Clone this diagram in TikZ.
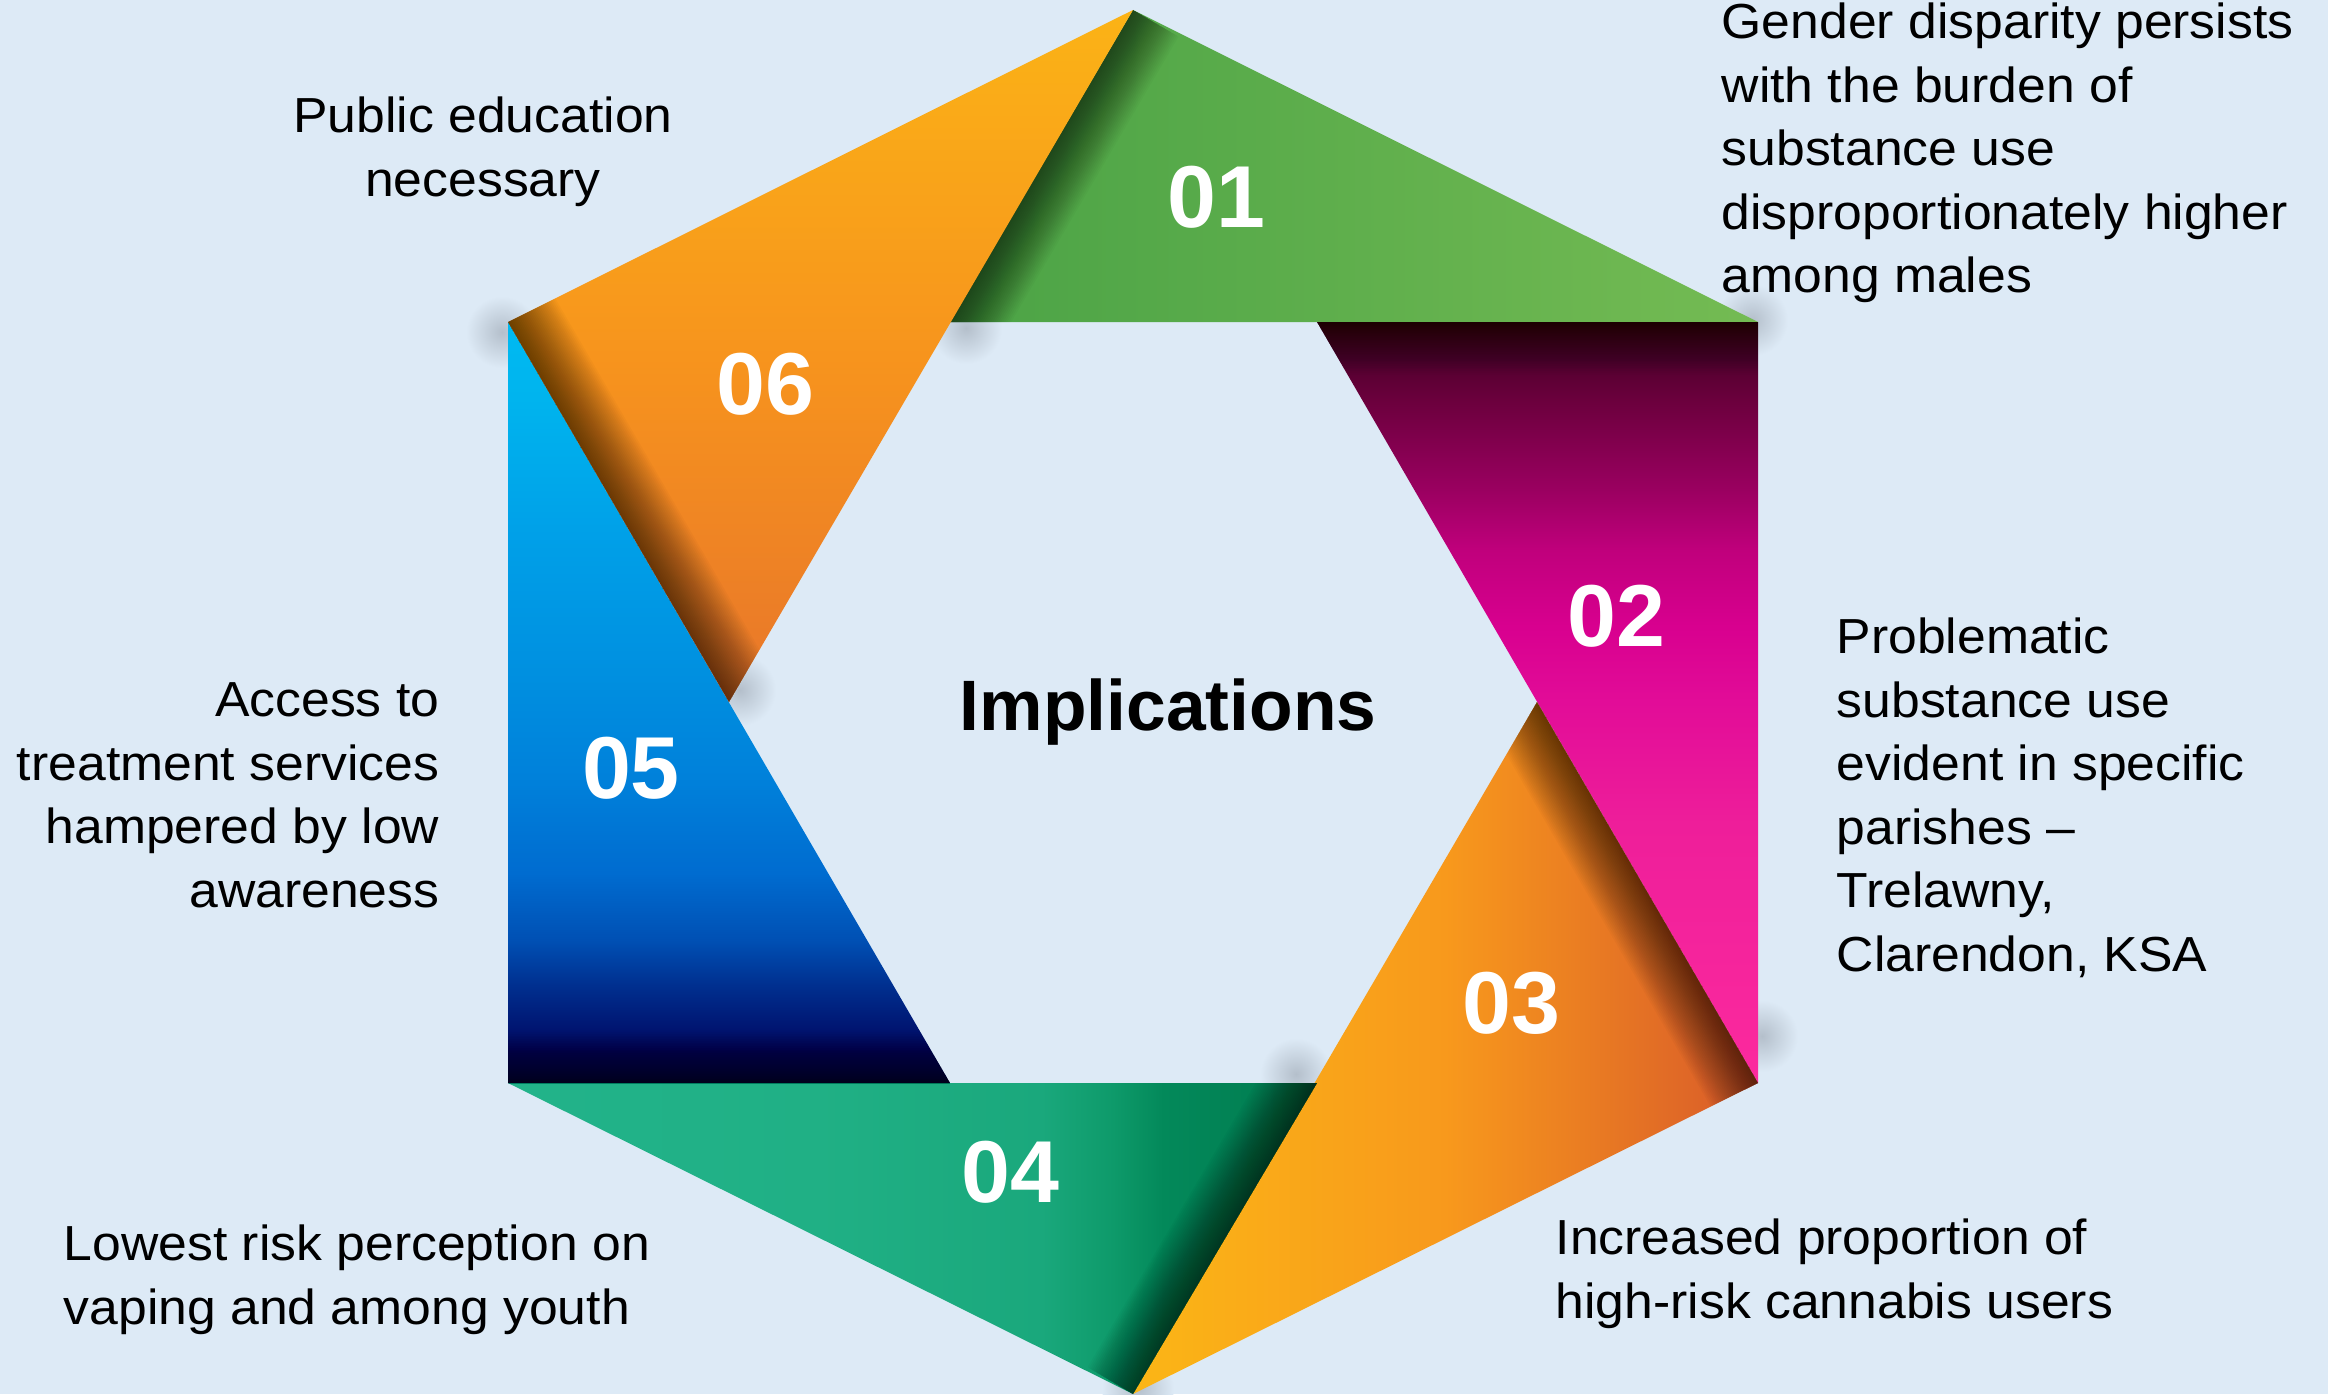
\documentclass[tikz,border=0pt]{standalone}
\usepackage{fontspec}
\setmainfont{Liberation Sans}[FakeStretch=1.05]
\newfontfamily\numfont{Liberation Sans}
\usetikzlibrary{calc}

\definecolor{bgblue}{HTML}{DDEAF6}
\definecolor{haze}{HTML}{B4BFCB}
\definecolor{greenL}{HTML}{4BA346}
\definecolor{greenR}{HTML}{74BB53}
\definecolor{orangeY}{HTML}{FBB616}
\definecolor{orangeM}{HTML}{F8991C}
\definecolor{orangeR}{HTML}{D8592A}
\definecolor{amberT}{HTML}{FBB316}
\definecolor{amberM}{HTML}{F7941D}
\definecolor{amberB}{HTML}{E8762A}
% magenta fold, bottom to top
\definecolor{mgA}{HTML}{FC2A9E}
\definecolor{mgB}{HTML}{EE1E9A}
\definecolor{mgC}{HTML}{E20C98}
\definecolor{mgD}{HTML}{D8008F}
\definecolor{mgE}{HTML}{C0007C}
\definecolor{mgF}{HTML}{9A0060}
\definecolor{mgG}{HTML}{6A003C}
\definecolor{mgH}{HTML}{3A0020}
% blue fold, bottom to top
\definecolor{blA}{HTML}{000038}
\definecolor{blB}{HTML}{00044C}
\definecolor{blC}{HTML}{001470}
\definecolor{blD}{HTML}{003090}
\definecolor{blE}{HTML}{0050B4}
\definecolor{blF}{HTML}{006CD0}
\definecolor{blG}{HTML}{0080DA}
\definecolor{blH}{HTML}{0090E0}
\definecolor{blI}{HTML}{00A0E8}
\definecolor{blJ}{HTML}{00B4EE}
\definecolor{blK}{HTML}{00BAF2}
% teal fold, left to right
\definecolor{tlA}{HTML}{22B38A}
\definecolor{tlB}{HTML}{20B085}
\definecolor{tlC}{HTML}{1AA87C}
\definecolor{tlD}{HTML}{0E9A6A}
\definecolor{tlE}{HTML}{03895A}
\definecolor{tlF}{HTML}{007A4E}

\pgfdeclareverticalshading{magentafold}{100bp}{color(0bp)=(mgA); color(25bp)=(mgA);
  color(42bp)=(mgB); color(50bp)=(mgC); color(55bp)=(mgD); color(60bp)=(mgE);
  color(64bp)=(mgF); color(70bp)=(mgG); color(75bp)=(mgH); color(100bp)=(mgH)}
\pgfdeclareverticalshading{bluefold}{100bp}{color(0bp)=(blA); color(25bp)=(blA);
  color(26bp)=(blB); color(28.5bp)=(blC); color(31.5bp)=(blD); color(34.4bp)=(blE);
  color(38.8bp)=(blF); color(44.7bp)=(blG); color(52bp)=(blH); color(61bp)=(blI);
  color(70bp)=(blJ); color(75bp)=(blK); color(100bp)=(blK)}
\pgfdeclarehorizontalshading{tealfold}{100bp}{color(0bp)=(tlA); color(25bp)=(tlA);
  color(44bp)=(tlB); color(58bp)=(tlC); color(62.4bp)=(tlD); color(65.5bp)=(tlE);
  color(75bp)=(tlF); color(100bp)=(tlF)}

\tikzset{
  fold1/.style={left color=greenL, right color=greenR},
  fold2/.style={shading=magentafold},
  fold3/.style={left color=orangeY, right color=orangeR, middle color=orangeM},
  fold4/.style={shading=tealfold},
  fold5/.style={shading=bluefold},
  fold6/.style={top color=amberT, bottom color=amberB, middle color=amberM},
  blur/.style={inner color=haze, outer color=bgblue},
  foldnum/.style={font=\numfont\bfseries\fontsize{25}{30}\selectfont, text=white, inner sep=0pt},
  implnote/.style={font=\fontsize{14}{18.1}\selectfont, inner sep=0pt},
  titletext/.style={font=\numfont\bfseries\fontsize{20.3}{24}\selectfont, inner sep=0pt},
}

\begin{document}
\begin{tikzpicture}[x=0.01cm, y=-0.01cm]
    \useasboundingbox (0,0) rectangle (2328,1394);
    \fill[bgblue] (0,0) rectangle (2328,1394);

    % outer corners of the hexagon
    \coordinate (top) at (1133,10);
    \coordinate (ur) at (1758,322);
    \coordinate (lr) at (1758,1083);
    \coordinate (bot) at (1133,1394);
    \coordinate (ll) at (508,1083);
    \coordinate (ul) at (508,322);
    % inner corners
    \coordinate (in1) at (950,322);
    \coordinate (in2) at (1317,322);
    \coordinate (in3) at (1537,702);
    \coordinate (in4) at (1317,1083);
    \coordinate (in5) at (950,1083);
    \coordinate (in6) at (729,702);

    % soft haze under the folds
    \foreach \p in {(966,328), (502,332), (740,690), (1296,1074), (1762,1036), (1138,1388), (1752,320)}
        \shade[blur] \p circle (36);

    % folds with their shadows
    \foreach \i/\a/\b/\op in {1/top/ur/0.022, 2/ur/lr/0.017, 3/lr/bot/0.022,
                              4/bot/ll/0.022, 5/ll/ul/0.014, 6/ul/top/0.024} {
        \shade[fold\i] (in\i) -- (\a) -- (\b) -- cycle;
        \begin{scope}
            \clip (in\i) -- (\a) -- (\b) -- cycle;
            \foreach \k in {1,...,30}
                \fill[black, opacity=\op] ($(in\i)!\k*0.5pt!90:(\a)$) -- ($(\a)!\k*0.5pt!-90:(in\i)$)
                    -- ($(\a)!\k*0.5pt!90:(in\i)$) -- ($(in\i)!\k*0.5pt!-90:(\a)$) -- cycle;
        \end{scope}
    }

    \node[foldnum] (n1) at (1216,197) {01};
    \node[foldnum] (n2) at (1616,616) {02};
    \node[foldnum] (n3) at (1511,1003) {03};
    \node[foldnum] (n4) at (1010,1172) {04};
    \node[foldnum] (n5) at (631,768) {05};
    \node[foldnum] (n6) at (765,384) {06};

    \node[titletext, anchor=base] (implications) at (1168,730) {Implications};

    \node[implnote, anchor=north west, align=left] (gender) at (1721,2)
        {Gender disparity persists\\with the burden of\\substance use\\disproportionately higher\\among males};
    \node[implnote, anchor=north west, align=left] (parishes) at (1836,617)
        {Problematic\\substance use\\evident in specific\\parishes --\\Trelawny,\\Clarendon, KSA};
    \node[implnote, anchor=north west, align=left] (cannabis) at (1555,1218)
        {Increased proportion of\\high-risk cannabis users};
    \node[implnote, anchor=north west, align=left] (vaping) at (63,1224)
        {Lowest risk perception on\\vaping and among youth};
    \node[implnote, anchor=north east, align=right] (access) at (440,682)
        {Access to\\treatment services\\hampered by low\\awareness};
    \node[implnote, anchor=north, align=center] (education) at (483,96)
        {Public education\\necessary};
\end{tikzpicture}
\end{document}
